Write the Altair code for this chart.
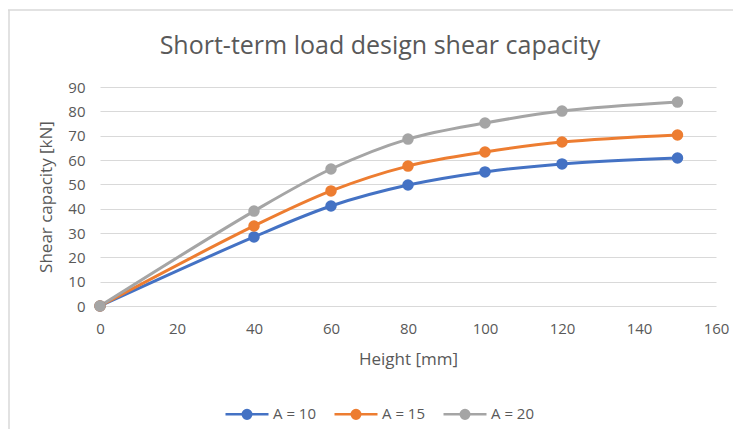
import altair as alt
import pandas as pd

heights = [0, 40, 60, 80, 100, 120, 150]
a10 = [0, 28.4, 41.1, 49.7, 55.1, 58.4, 60.8]
a15 = [0, 32.9, 47.3, 57.5, 63.3, 67.4, 70.3]
a20 = [0, 39.0, 56.3, 68.6, 75.2, 80.1, 83.8]
series_names = ["A = 10", "A = 15", "A = 20"]
series_colors = ["#4472C4", "#ED7D31", "#A5A5A5"]

rows = []
for name, vals in zip(series_names, [a10, a15, a20]):
    for h, v in zip(heights, vals):
        rows.append({"Height": h, "Capacity": v, "Series": name})
df = pd.DataFrame(rows)

FONT = "Open Sans"
TXT = "#595959"

x = alt.X("Height:Q", title="Height [mm]",
          scale=alt.Scale(domain=[0, 160], nice=False),
          axis=alt.Axis(values=list(range(0, 161, 20)), grid=False, domain=False,
                        ticks=False, labelFlush=False, labelPadding=15, titlePadding=15))
y = alt.Y("Capacity:Q", title="Shear capacity [kN]",
          scale=alt.Scale(domain=[0, 90], nice=False),
          axis=alt.Axis(values=list(range(0, 91, 10)), grid=True, domain=False,
                        ticks=False, labelPadding=15, titlePadding=12))

sym_path = ("M-1,0L1,0M-0.2,0A0.2,0.2,0,1,1,0.2,0A0.2,0.2,0,1,1,-0.2,0Z")
color_scale = alt.Scale(domain=series_names, range=series_colors)
legend = alt.Legend(orient="none", direction="horizontal", title=None,
                    legendX=124, legendY=304, symbolType=sym_path, symbolSize=1849,
                    symbolStrokeWidth=2.5, labelOffset=3, columnPadding=12,
                    labelFontSize=15, labelColor=TXT, labelFont=FONT)

base = alt.Chart(df)
lines = base.mark_line(interpolate="catmull-rom", strokeWidth=3).encode(
    x=x, y=y,
    color=alt.Color("Series:N", scale=color_scale, legend=legend),
)
points = base.mark_point(filled=True, size=90, opacity=1).encode(
    x=x, y=y,
    color=alt.Color("Series:N", scale=color_scale, legend=legend),
    stroke=alt.Stroke("Series:N", scale=color_scale, legend=legend),
)

border_df = pd.DataFrame({"a": [0]})
top_border = alt.Chart(border_df).mark_rule(color="#d9d9d9", strokeWidth=1.5).encode(
    x=alt.value(-92), x2=alt.value(640), y=alt.value(-77))
left_border = alt.Chart(border_df).mark_rule(color="#d9d9d9", strokeWidth=1.5).encode(
    x=alt.value(-91), y=alt.value(-77), y2=alt.value(345))

chart = alt.layer(top_border, left_border, lines, points).properties(
    width=616, height=219,
    title=alt.Title("Short-term load design shear capacity", fontSize=25,
                    font=FONT, fontWeight="normal", color=TXT, offset=-70,
                    baseline="alphabetic", dx=-28),
    autosize=alt.AutoSizeParams(type="none"),
    padding={"left": 92, "top": 79, "right": 17, "bottom": 123},
).configure_view(stroke=None).configure_axis(
    labelFont=FONT, titleFont=FONT, labelFontSize=15, titleFontSize=17,
    labelColor=TXT, titleColor=TXT, titleFontWeight="normal",
    gridColor="#d9d9d9", gridWidth=1,
)

chart.save("out.html", embed_options={"renderer": "svg", "actions": False})
